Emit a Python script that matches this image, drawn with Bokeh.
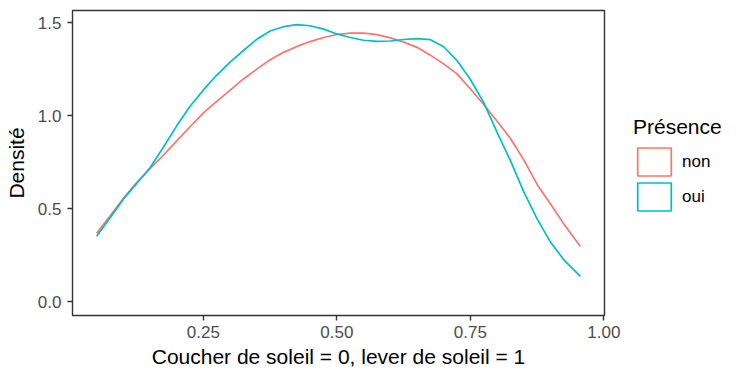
from bokeh.plotting import figure
from bokeh.models import Range1d, FixedTicker, PrintfTickFormatter, Legend, LegendItem
from bokeh.embed import file_html
from bokeh.resources import INLINE

# ---- data ----
x_vals = [0.05, 0.075, 0.10, 0.125, 0.15, 0.175, 0.20, 0.225, 0.25, 0.275, 0.30, 0.325,
          0.35, 0.375, 0.40, 0.425, 0.45, 0.475, 0.50, 0.525, 0.55, 0.575, 0.60, 0.625,
          0.65, 0.675, 0.70, 0.725, 0.75, 0.775, 0.80, 0.825, 0.85, 0.875, 0.90, 0.925, 0.956]
dens_non = [0.367, 0.46, 0.555, 0.64, 0.715, 0.787, 0.864, 0.94, 1.015, 1.077, 1.137, 1.197,
            1.25, 1.30, 1.34, 1.372, 1.398, 1.42, 1.436, 1.443, 1.443, 1.435, 1.418, 1.395,
            1.367, 1.325, 1.278, 1.224, 1.143, 1.06, 0.97, 0.877, 0.762, 0.63, 0.525, 0.418, 0.297]
dens_oui = [0.351, 0.45, 0.55, 0.635, 0.72, 0.83, 0.945, 1.05, 1.138, 1.218, 1.288, 1.35,
            1.41, 1.455, 1.478, 1.489, 1.483, 1.465, 1.439, 1.42, 1.405, 1.399, 1.401, 1.409,
            1.414, 1.408, 1.37, 1.296, 1.194, 1.07, 0.91, 0.758, 0.59, 0.445, 0.32, 0.225, 0.136]
groups = ["non", "oui"]
colors = ["#F8766D", "#00BFC4"]
x_ticks = [0.25, 0.50, 0.75, 1.00]
y_ticks = [0.0, 0.5, 1.0, 1.5]
x_title = "Coucher de soleil = 0, lever de soleil = 1"
y_title = "Densité"
legend_title = "Présence"

FONT = "Liberation Sans"

p = figure(frame_width=532, frame_height=305, output_backend="svg", toolbar_location=None,
           x_range=Range1d(0.0048, 1.0012), y_range=Range1d(-0.0745, 1.565),
           min_border_left=72, min_border_right=138, min_border_top=10, min_border_bottom=62)

p.grid.visible = False
p.background_fill_color = "white"
p.border_fill_color = "white"
p.outline_line_color = "#333333"
p.outline_line_width = 1.4

for ax in (p.xaxis[0], p.yaxis[0]):
    ax.axis_line_color = None
    ax.major_tick_line_color = "#333333"
    ax.major_tick_line_width = 1.4
    ax.major_tick_out = 5
    ax.major_tick_in = 0
    ax.minor_tick_line_color = None
    ax.major_label_text_font = FONT
    ax.major_label_text_font_size = "17px"
    ax.major_label_text_color = "#4D4D4D"
    ax.axis_label_text_font = FONT
    ax.axis_label_text_font_size = "21px"
    ax.axis_label_text_font_style = "normal"
    ax.axis_label_text_color = "black"

p.xaxis.ticker = FixedTicker(ticks=x_ticks)
p.yaxis.ticker = FixedTicker(ticks=y_ticks)
p.xaxis.formatter = PrintfTickFormatter(format="%.2f")
p.yaxis.formatter = PrintfTickFormatter(format="%.1f")
p.xaxis.axis_label = x_title
p.yaxis.axis_label = y_title
p.xaxis.major_label_standoff = 5
p.yaxis.major_label_standoff = 6
p.xaxis.axis_label_standoff = 4
p.yaxis.axis_label_standoff = 7

series = [dens_non, dens_oui]
items = []
for g, c, ys in zip(groups, colors, series):
    p.line(x_vals, ys, line_color=c, line_width=1.7)
    # off-range point: only used to draw the legend key box
    key = p.rect(x=[-10.0], y=[-10.0], width=0.1, height=0.1, fill_color=None,
                 line_color=c, line_width=1.7)
    items.append(LegendItem(label=g, renderers=[key]))

legend = Legend(items=items, title=legend_title, location=(29, 101))
legend.title_text_font = FONT
legend.title_text_font_size = "21px"
legend.title_text_font_style = "normal"
legend.title_text_color = "black"
legend.title_standoff = 5
legend.label_text_font = FONT
legend.label_text_font_size = "17px"
legend.label_text_color = "black"
legend.glyph_width = 42
legend.glyph_height = 35
legend.spacing = 0
legend.label_standoff = 7
legend.padding = 0
legend.margin = 0
legend.border_line_color = None
legend.background_fill_alpha = 0
p.add_layout(legend, "right")

open("out.html", "w").write(file_html(p, INLINE))
